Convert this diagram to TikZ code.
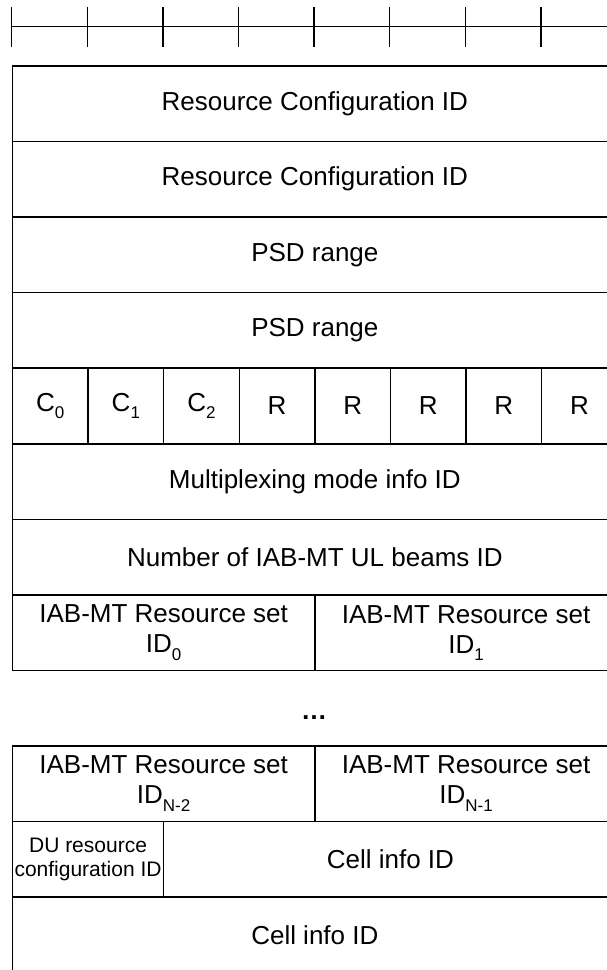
\documentclass[tikz,border=0pt]{standalone}
\usepackage{fontspec}
\setmainfont{Liberation Sans}
\newcommand\mysub[1]{\raisebox{-0.28em}{\fontsize{17}{17}\selectfont #1}}
\tikzset{
  cell/.style={draw, line width=1.5pt, minimum height=75.6pt, inner sep=0pt,
    align=center, anchor=north west, font=\fontsize{26}{30}\selectfont},
  full/.style={cell, minimum width=604.8pt},
  half/.style={cell, minimum width=302.4pt},
  unit/.style={cell, minimum width=75.6pt},
  ruler/.style={line width=1.5pt}
}
\begin{document}
\begin{tikzpicture}[x=1pt,y=1pt]
\clip (0,0) rectangle (607,-970);
% ruler
\draw[ruler] (11.7,-26.7) -- (620,-26.7);
\foreach \k in {0,...,8} {
  \draw[ruler] ({11.7+75.6*\k},-7.3) -- ({11.7+75.6*\k},-46.7);
}
% top block
\node[full] (rc1)  at (11.7,-65.0)  {Resource Configuration ID};
\node[full] (rc2)  at (11.7,-140.6) {Resource Configuration ID};
\node[full] (psd1) at (11.7,-216.2) {PSD range};
\node[full] (psd2) at (11.7,-291.8) {PSD range};
\node[unit] (c0) at (11.7,-367.4)  {C\mysub{0}};
\node[unit] (c1) at (87.3,-367.4)  {C\mysub{1}};
\node[unit] (c2) at (162.9,-367.4) {C\mysub{2}};
\node[unit] (r3) at (238.5,-367.4) {R};
\node[unit] (r4) at (314.1,-367.4) {R};
\node[unit] (r5) at (389.7,-367.4) {R};
\node[unit] (r6) at (465.3,-367.4) {R};
\node[unit] (r7) at (540.9,-367.4) {R};
\node[full] (mux) at (11.7,-443.0) {Multiplexing mode info ID};
\node[full] (num) at (11.7,-518.6) {Number of IAB-MT UL beams ID};
\node[half] (ms0) at (11.7,-594.2)  {IAB-MT Resource set\\ID\mysub{0}};
\node[half] (ms1) at (314.1,-594.2) {IAB-MT Resource set\\ID\mysub{1}};
% ellipsis
\node[font=\fontsize{26}{30}\selectfont\bfseries, inner sep=0pt] (dots) at (314.1,-718) {…};
% bottom block
\node[half] (msn2) at (11.7,-745.0)  {IAB-MT Resource set\\ID\mysub{N-2}};
\node[half] (msn1) at (314.1,-745.0) {IAB-MT Resource set\\ID\mysub{N-1}};
\node[cell, minimum width=151.2pt, font=\fontsize{21}{24}\selectfont] (du) at (11.7,-820.6) {DU resource\\configuration ID};
\node[cell, minimum width=453.6pt] (ci1) at (162.9,-820.6) {Cell info ID};
\node[full] (ci2) at (11.7,-896.2) {Cell info ID};
\end{tikzpicture}
\end{document}
